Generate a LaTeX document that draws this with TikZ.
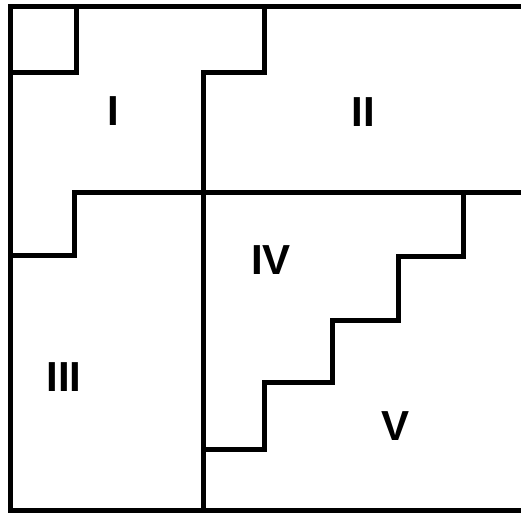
\documentclass[tikz,border=0pt]{standalone}
\usepackage{fontspec}
\setmainfont{Liberation Sans}
\begin{document}
\begin{tikzpicture}[x=1pt,y=-1pt,
  wall/.style={line width=5pt,line cap=rect,line join=miter},
  lbl/.style={font=\fontsize{42}{42}\selectfont\bfseries,inner sep=0pt}]
\useasboundingbox (0,0) rectangle (521,513);
\begin{scope}
\clip (0,0) rectangle (521,513);
% outer frame (open on the right)
\draw[wall] (530,7) -- (10,7) -- (10,510) -- (530,510);
% top-left small square
\draw[wall] (10,73) -- (76,73) -- (76,7);
% top step and central wall
\draw[wall] (264,7) -- (264,73) -- (203,73) -- (203,510);
% middle horizontal with step to the left
\draw[wall] (530,192) -- (74,192) -- (74,255) -- (10,255);
% staircase between IV and V
\draw[wall] (463,192) -- (463,256) -- (398,256) -- (398,320) -- (332,320)
  -- (332,382) -- (264,382) -- (264,449) -- (203,449);
\end{scope}
\node[lbl] (r1) at (113,111) {I};
\node[lbl] (r2) at (363,112) {II};
\node[lbl] (r3) at (64,377) {III};
\node[lbl] (r4) at (271,260) {IV};
\node[lbl] (r5) at (395,426) {V};
\end{tikzpicture}
\end{document}
